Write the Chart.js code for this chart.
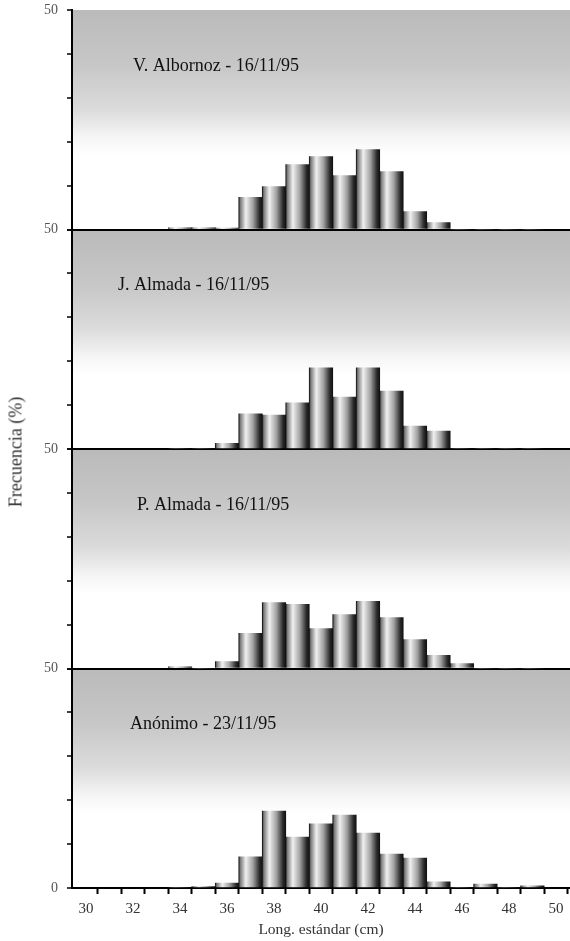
<!DOCTYPE html>
<html>
<head>
<meta charset="utf-8">
<script src="https://cdn.jsdelivr.net/npm/chart.js@4.4.1/dist/chart.umd.min.js"></script>
<style>
  html, body { margin: 0; padding: 0; background: #fff; }
  #wrap { position: relative; width: 570px; height: 941px; }
  #ytitle {
    position: absolute; left: 16px; top: 452px;
    transform: translate(-50%, -50%) rotate(-90deg);
    font: 18px "Liberation Serif", serif; color: #333; white-space: nowrap;
  }
</style>
</head>
<body>
<div id="wrap">
  <canvas id="grafico" width="570" height="941"></canvas>
  <div id="ytitle">Frecuencia (%)</div>
</div>
<script>
// Clases de longitud estándar (cm)
const longitudes = [34, 35, 36, 37, 38, 39, 40, 41, 42, 43, 44, 45, 46, 47, 48, 49];

// Frecuencia (%) de cada muestreo
const albornoz = [0.4, 0.4, 0.3, 7.3, 9.8, 14.8, 16.6, 12.3, 18.2, 13.2, 4.1, 1.6, 0, 0, 0, 0];
const jAlmada  = [0, 0, 1.3, 8.0, 7.7, 10.5, 18.5, 11.8, 18.5, 13.2, 5.2, 4.1, 0, 0, 0, 0];
const pAlmada  = [0.4, 0, 1.6, 8.0, 15.0, 14.6, 9.1, 12.3, 15.3, 11.6, 6.6, 3.0, 1.1, 0, 0, 0];
const anonimo  = [0, 0.3, 1.1, 7.1, 17.5, 11.6, 14.6, 16.6, 12.5, 7.7, 6.8, 1.4, 0, 0.9, 0, 0.5];

const paneles = ['V. Albornoz - 16/11/95', 'J. Almada - 16/11/95', 'P. Almada - 16/11/95', 'Anónimo - 23/11/95'];
const series = [albornoz, jAlmada, pAlmada, anonimo];

// Etiquetas de los ejes
const xEtiquetas = [30, 32, 34, 36, 38, 40, 42, 44, 46, 48, 50];
const yMarcas = [0, 10, 20, 30, 40, 50];

const SERIF = '"Liberation Serif", "DejaVu Serif", serif';

// Degradado tipo cilindro para cada barra
function cilindro(ctx) {
  const chart = ctx.chart;
  const xs = chart.scales.x;
  if (ctx.type !== 'data' || !xs || !xs.width) return '#777';
  const x0 = xs.getPixelForValue(ctx.raw.x - 0.5);
  const x1 = xs.getPixelForValue(ctx.raw.x + 0.5);
  const g = chart.ctx.createLinearGradient(x0, 0, x1, 0);
  g.addColorStop(0, '#111');
  g.addColorStop(0.06, '#777');
  g.addColorStop(0.3, '#f0f0f0');
  g.addColorStop(0.6, '#a2a2a2');
  g.addColorStop(0.88, '#2a2a2a');
  g.addColorStop(1, '#111');
  return g;
}

// Fondo gris que se aclara hacia abajo en cada panel
const fondoPanel = {
  id: 'fondoPanel',
  beforeDraw(chart) {
    const { ctx, chartArea } = chart;
    series.forEach((_, i) => {
      const s = chart.scales['y' + i];
      const g = ctx.createLinearGradient(0, s.top, 0, s.bottom);
      g.addColorStop(0, '#bababa');
      g.addColorStop(0.25, '#c7c7c7');
      g.addColorStop(0.45, '#dbdbdb');
      g.addColorStop(0.58, '#f5f5f5');
      g.addColorStop(0.66, '#ffffff');
      g.addColorStop(1, '#ffffff');
      ctx.save();
      ctx.fillStyle = g;
      ctx.fillRect(chartArea.left, s.top, chartArea.right - chartArea.left, s.bottom - s.top);
      ctx.restore();
    });
  }
};

// Nombre del muestreo dentro de cada panel
const nombrePanel = {
  id: 'nombrePanel',
  afterDatasetsDraw(chart) {
    const { ctx, chartArea } = chart;
    const desde = [61, 46, 65, 58];
    ctx.save();
    ctx.font = '18px ' + SERIF;
    ctx.fillStyle = '#111';
    ctx.textBaseline = 'middle';
    paneles.forEach((txt, i) => {
      const s = chart.scales['y' + i];
      ctx.fillText(txt, chartArea.left + desde[i], s.top + 56);
    });
    ctx.restore();
  }
};

const datasets = series.map((vals, i) => ({
  label: paneles[i],
  data: longitudes.map((x, j) => ({ x: x, y: vals[j] })),
  yAxisID: 'y' + i,
  backgroundColor: cilindro,
  borderWidth: 0,
  barPercentage: 1,
  categoryPercentage: 1,
  grouped: false
}));

const scales = {
  x: {
    type: 'linear',
    min: 29.4,
    max: 50.6,
    offset: false,
    afterBuildTicks: s => { s.ticks = xEtiquetas.concat(xEtiquetas.slice(0, -1).map(v => v + 1)).sort((a, b) => a - b).map(v => ({ value: v + 0.5 })); },
    afterFit: s => { s.height = 53; s.paddingLeft = 0; s.paddingRight = 0; },
    border: { color: '#000', width: 2 },
    grid: { offset: false, drawOnChartArea: false, tickColor: '#000', tickLength: 6, tickWidth: 2 },
    ticks: {
      autoSkip: false,
      maxRotation: 0,
      labelOffset: -11.75,
      padding: 6,
      color: '#333',
      font: { family: SERIF, size: 15 },
      callback: v => xEtiquetas.includes(v - 0.5) ? String(v - 0.5) : ''
    },
    title: { display: true, text: 'Long. estándar (cm)', color: '#333', font: { family: SERIF, size: 15.5 }, padding: { top: 0, bottom: 2 } }
  }
};

// Los ejes apilados se colocan de abajo hacia arriba, por eso se definen al revés
for (let i = series.length - 1; i >= 0; i--) {
  scales['y' + i] = {
    type: 'linear',
    position: 'left',
    stack: 'frecuencia',
    stackWeight: 1,
    min: 0,
    max: 50,
    afterBuildTicks: s => { s.ticks = yMarcas.map(v => ({ value: v })); },
    afterFit: s => { s.width = 72; s.paddingTop = 0; s.paddingBottom = 0; },
    border: { color: '#000', width: 2 },
    grid: {
      drawOnChartArea: true,
      color: c => (c.tick && c.tick.value === 0 ? '#000' : 'rgba(0,0,0,0)'),
      lineWidth: 2,
      tickColor: '#000',
      tickLength: 5,
      tickWidth: 1.5
    },
    ticks: {
      padding: 9,
      color: '#555',
      font: { family: SERIF, size: 14 },
      callback: v => (v === 50 || (v === 0 && i === series.length - 1) ? String(v) : '')
    }
  };
}

new Chart(document.getElementById('grafico'), {
  type: 'bar',
  data: { datasets: datasets },
  options: {
    responsive: false,
    animation: false,
    layout: { padding: { top: 10, right: 0, bottom: 0, left: 0 } },
    plugins: {
      legend: { display: false },
      tooltip: { enabled: false }
    },
    scales: scales
  },
  plugins: [fondoPanel, nombrePanel]
});
</script>
</body>
</html>
